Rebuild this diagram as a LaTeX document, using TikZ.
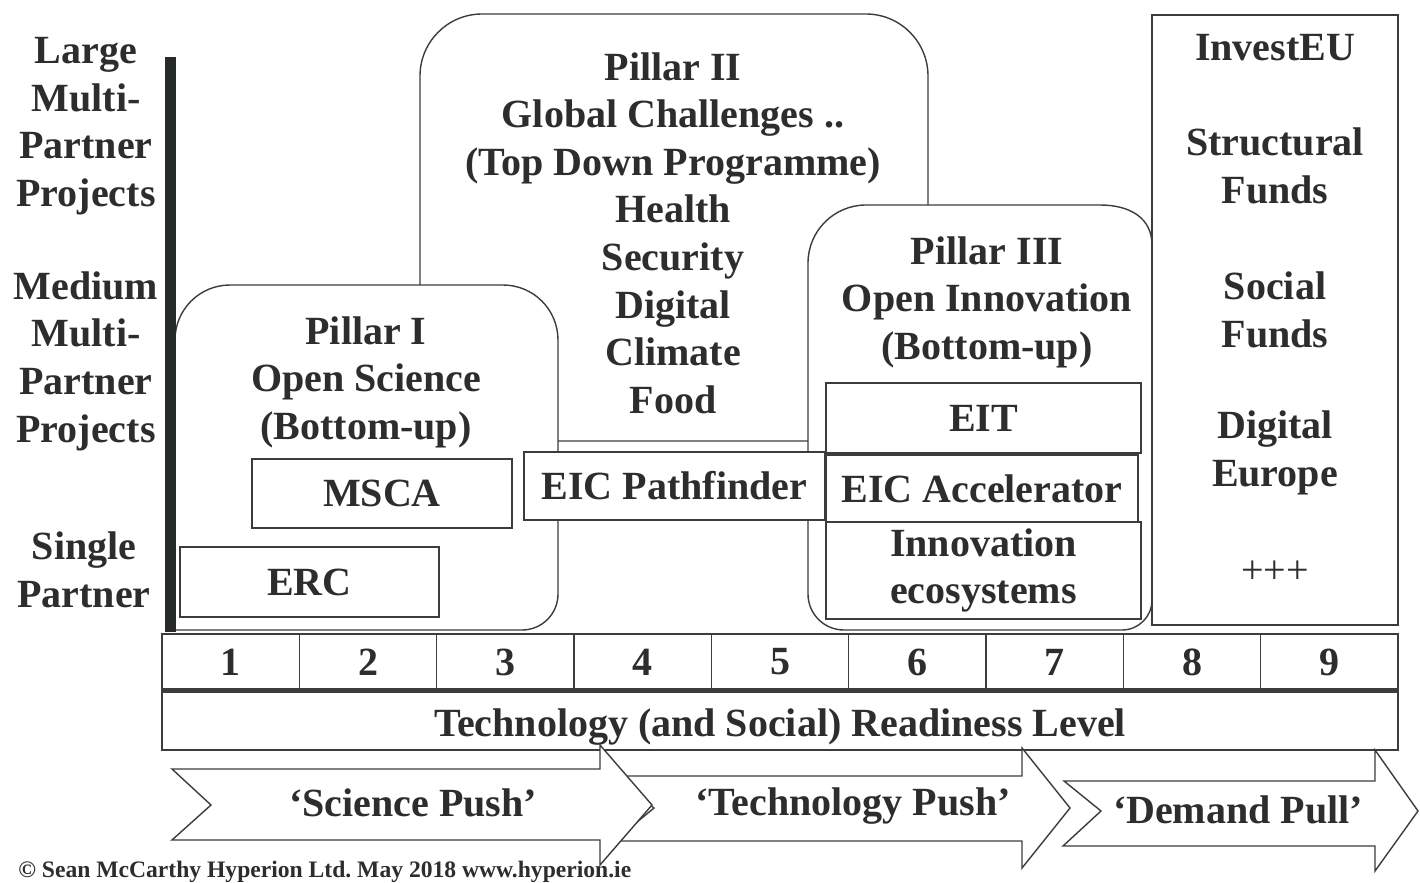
\documentclass[tikz,border=0pt]{standalone}
\usepackage{fontspec}
\setmainfont{Liberation Serif}
\frenchspacing
\definecolor{txt}{RGB}{45,45,45}
\definecolor{ln}{RGB}{60,60,60}
\definecolor{axc}{RGB}{38,42,40}
\begin{document}
\begin{tikzpicture}[x=0.5pt,y=-0.5pt,
  lbl/.style={font=\fontsize{20}{23.8}\selectfont\bfseries,text=txt,align=center,inner sep=0pt},
  pillar/.style={draw=ln,line width=0.7pt,fill=white},
  progbox/.style={draw=ln,line width=1.3pt,fill=white,inner sep=0pt,font=\fontsize{20}{23.8}\selectfont\bfseries,text=txt,align=center},
  cell/.style={draw=ln,line width=0.8pt,minimum width=68.667pt,minimum height=28pt,inner sep=0pt,font=\fontsize{20}{24}\selectfont\bfseries,text=txt},
  arrowshape/.style={draw=ln,line width=0.7pt,fill=white,line join=miter},
]
\useasboundingbox (0,0) rectangle (1420,883);
\fill[white] (0,0) rectangle (1420,883);

% Pillar II
\path[pillar] (420,441) -- (420,76) .. controls (420,41.8) and (447.8,14) .. (482,14)
  -- (866,14) .. controls (900.2,14) and (928,41.8) .. (928,76) -- (928,441) -- cycle;
% Pillar I
\path[pillar] (175,630) -- (175,340) .. controls (175,309.6) and (199.6,285) .. (230,285)
  -- (503,285) .. controls (533.4,285) and (558,309.6) .. (558,340)
  -- (558,594) .. controls (558,613.9) and (541.9,630) .. (522,630) -- cycle;
% Pillar III
\path[pillar] (808,594) -- (808,263) .. controls (808,231) and (834,205) .. (866,205)
  -- (1100,205) .. controls (1130,205) and (1152,218) .. (1152,245)
  -- (1152,600) .. controls (1152,616.6) and (1138.6,630) .. (1122,630)
  -- (844,630) .. controls (824.1,630) and (808,613.9) .. (808,594) -- cycle;
% InvestEU column
\node[draw=ln,line width=0.9pt,fill=white,minimum width=123pt,minimum height=305pt,inner sep=0pt] (investbox) at (1275,320) {};

% Pillar texts
\node[lbl] (p2) at (673,233) {Pillar II\\Global Challenges ..\\(Top Down Programme)\\Health\\Security\\Digital\\Climate\\Food};
\node[lbl] (p1) at (366,382) {Pillar I\\Open Science\\(Bottom-up)};
\node[lbl] (p3) at (987,302) {Pillar III\\Open Innovation\\(Bottom-up)};

\node[lbl] (investeu) at (1275,48) {InvestEU};
\node[lbl] (structural) at (1275,166) {Structural\\Funds};
\node[lbl] (social) at (1275,310) {Social\\Funds};
\node[lbl] (digeu) at (1275,453) {Digital\\Europe};
\node[lbl,font=\fontsize{20}{24}\selectfont] (plus) at (1275,572) {+++};

% Left axis labels
\node[lbl] (large) at (86,126) {Large\\Multi-\\Partner\\Projects};
\node[lbl] (medium) at (86,361) {Medium\\Multi-\\Partner\\Projects};
\node[lbl] (single) at (84,570) {Single\\Partner};

% TRL number row
\foreach \i in {1,...,9} \node[cell] (n\i) at ({162+137.333*(\i-0.5)},662) {\i};
\node[draw=ln,line width=0.8pt,minimum width=618pt,minimum height=30pt,inner sep=0pt] (trl) at (780,720) {};
\node[lbl] (trltext) at (780,727) {Technology (and Social) Readiness Level};
\draw[ln,line width=2.5pt] (n1.south west) -- (n9.south east);

% Programme boxes
\node[progbox,minimum width=129.5pt,minimum height=35pt] (erc) at (309.5,582) {ERC};
\node[progbox,minimum width=130pt,minimum height=34.5pt] (msca) at (382,493.5) {MSCA};
\node[progbox,minimum width=150.5pt,minimum height=34pt] (pathf) at (674.5,486) {EIC Pathfinder};
\node[progbox,minimum width=157.5pt,minimum height=35pt] (eit) at (983.5,418) {EIT};
\node[progbox,minimum width=156pt,minimum height=33.5pt] (accel) at (982,488.5) {EIC Accelerator};
\node[progbox,minimum width=157.5pt,minimum height=48.5pt] (innov) at (983.5,570.5) {Innovation\\ecosystems};

% vertical axis bar
\coordinate (axtop) at (170,57);
\coordinate (axbot) at (170,632);
\draw[axc,line width=5.5pt] (axtop) -- (axbot);

% push / pull arrows
\path[arrowshape] (1064,781) -- (1375,781) -- (1375,750) -- (1418,811) -- (1375,871) -- (1375,846) -- (1063,846) -- (1101,811) -- cycle;
\path[arrowshape] (614,776) -- (1022,776) -- (1022,748) -- (1070,808) -- (1022,868) -- (1022,841) -- (614,841) -- (654,808) -- cycle;
\path[arrowshape] (172,769) -- (600,769) -- (600,745) -- (652,805) -- (600,865) -- (600,840) -- (172,840) -- (211,805) -- cycle;
\node[lbl] (science) at (413,803) {‘Science Push’};
\node[lbl] (tech) at (853,806) {‘Technology Push’};
\node[lbl] (demand) at (1238,810) {‘Demand Pull’};

% copyright
\node[anchor=west,inner sep=0pt,font=\fontsize{11.8}{14}\selectfont\bfseries,text=txt] (copy) at (18,872) {© Sean McCarthy Hyperion Ltd. May 2018 www.hyperion.ie};
\end{tikzpicture}
\end{document}
